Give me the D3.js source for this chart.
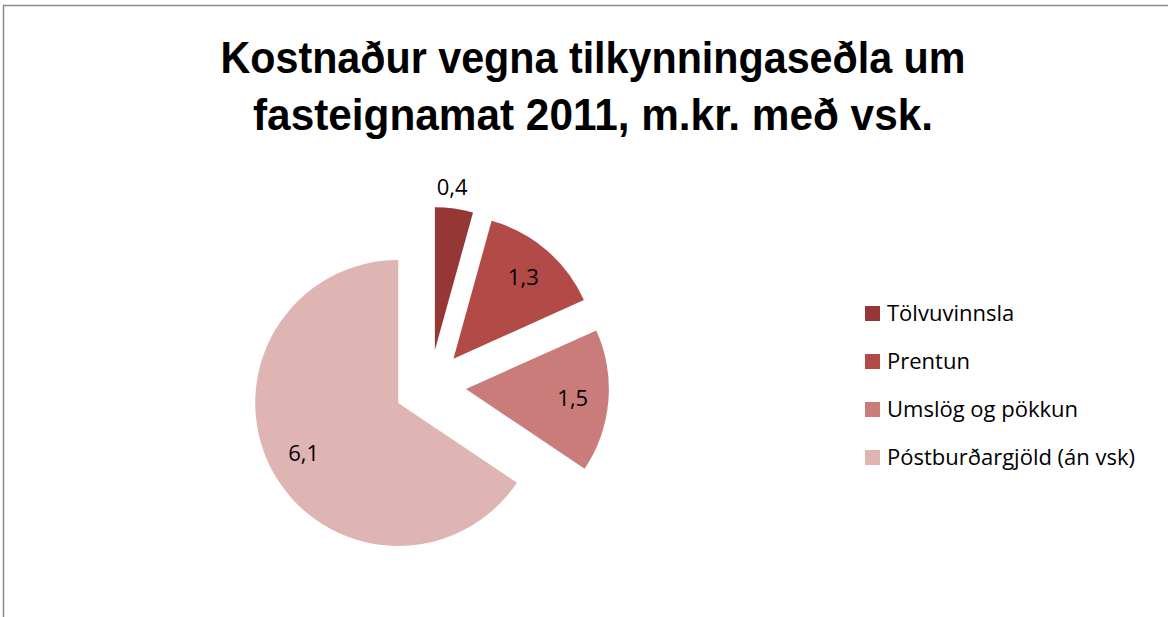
<!DOCTYPE html>
<html>
<head>
    <meta charset="utf-8">
    <title>Kostnaður vegna tilkynningaseðla</title>
    <script src="https://d3js.org/d3.v7.min.js"></script>
    <style>
        body { margin: 0; background: #fff; }
        text { font-family: "Open Sans", "Liberation Sans", Arial, sans-serif; }
    </style>
</head>
<body>
    <div id="chart"></div>
    <script>

        // data
        var categories = ["Tölvuvinnsla", "Prentun", "Umslög og pökkun", "Póstburðargjöld (án vsk)"];
        var values = [0.4, 1.3, 1.5, 6.1];
        var labels = ["0,4", "1,3", "1,5", "6,1"];
        var colors = ["#953735", "#B24A47", "#C97C7A", "#DFB5B4"];
        var titleLines = ["Kostnaður vegna tilkynningaseðla um", "fasteignamat 2011, m.kr. með vsk."];

        var width = 1168, height = 617;
        var cx = 430, cy = 386, radius = 143, explode = 36;

        var svg = d3.select("#chart")
            .append("svg")
            .attr("width", width)
            .attr("height", height);

        // chart frame (only left and top edges are visible)
        svg.append("rect")
            .attr("x", 3.5)
            .attr("y", 5.5)
            .attr("width", 1300)
            .attr("height", 700)
            .attr("fill", "none")
            .attr("stroke", "#8a8a8a")
            .attr("stroke-width", 1.5);

        // title
        var titleWidths = [745, 680];
        svg.selectAll(".title")
            .data(titleLines)
            .enter()
            .append("text")
            .attr("class", "title")
            .attr("x", 593)
            .attr("y", function(d, i) { return 73 + i * 57; })
            .attr("text-anchor", "middle")
            .attr("textLength", function(d, i) { return titleWidths[i]; })
            .attr("lengthAdjust", "spacingAndGlyphs")
            .style("font-family", "'Liberation Sans', Arial, sans-serif")
            .style("font-size", "44px")
            .style("font-weight", "bold")
            .style("fill", "#000")
            .text(function(d) { return d; });

        var pie = d3.pie().sort(null).value(function(d) { return d; });
        var arcs = pie(values);
        var arc = d3.arc().innerRadius(0).outerRadius(radius);

        function dir(d) {
            var a = (d.startAngle + d.endAngle) / 2;
            return [Math.sin(a), -Math.cos(a)];
        }

        var slices = svg.append("g")
            .attr("transform", `translate(${cx}, ${cy})`)
            .selectAll(".slice")
            .data(arcs)
            .enter()
            .append("g")
            .attr("class", "slice")
            .attr("transform", function(d) {
                var v = dir(d);
                return `translate(${v[0] * explode}, ${v[1] * explode})`;
            });

        slices.append("path")
            .attr("d", arc)
            .attr("fill", function(d, i) { return colors[i]; });

        // data labels: small slice outside, the rest inside
        function labelPos(d) {
            var v = dir(d);
            var r = d.value < 1 ? radius + 22 : radius * 0.75;
            return [v[0] * r, v[1] * r];
        }

        slices.append("text")
            .attr("x", function(d) { return labelPos(d)[0] - (d.value < 1 ? 5 : 0); })
            .attr("y", function(d) { return labelPos(d)[1]; })
            .attr("dy", "0.35em")
            .attr("text-anchor", "middle")
            .style("font-size", "22px")
            .style("fill", "#000")
            .text(function(d, i) { return labels[i]; });

        // legend
        var legend = svg.selectAll(".legend")
            .data(categories)
            .enter()
            .append("g")
            .attr("class", "legend")
            .attr("transform", function(d, i) { return `translate(865, ${313 + i * 48})`; });

        legend.append("rect")
            .attr("x", 0)
            .attr("y", -7)
            .attr("width", 15)
            .attr("height", 15)
            .attr("fill", function(d, i) { return colors[i]; });

        legend.append("text")
            .attr("x", 22)
            .attr("y", 0)
            .attr("dy", "0.35em")
            .style("font-size", "22px")
            .style("fill", "#000")
            .text(function(d) { return d; });

    </script>
</body>
</html>
